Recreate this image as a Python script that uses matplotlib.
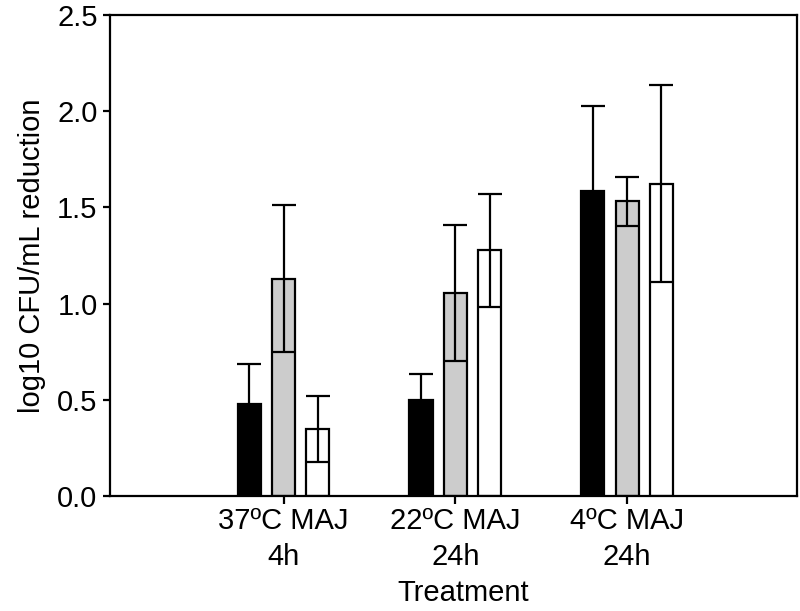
import numpy as np
import matplotlib.pyplot as plt

plt.rcParams['font.family'] = ['Liberation Sans', 'DejaVu Sans']

# data
groups = ['37ºC MAJ\n4h', '22ºC MAJ\n24h', '4ºC MAJ\n24h']
black_vals = [0.48, 0.50, 1.585]
black_err = [0.205, 0.135, 0.44]
gray_vals = [1.13, 1.055, 1.532]
gray_err = [0.38, 0.355, 0.127]
white_vals = [0.348, 1.277, 1.624]
white_err = [0.172, 0.295, 0.513]

x = np.arange(1, len(groups) + 1)
offset = 0.2
width = 0.135

fig = plt.figure(figsize=(8, 6.11), dpi=100)
ax = fig.add_axes([0.1375, 0.1882, 0.859, 0.7873])

err_kw = dict(ecolor='black', elinewidth=1.6, capsize=8.5, capthick=1.6, zorder=3)
for dx, vals, errs, col in [(-offset, black_vals, black_err, 'black'),
                            (0, gray_vals, gray_err, '#cccccc'),
                            (offset, white_vals, white_err, 'white')]:
    ax.bar(x + 0.01 + dx, vals, width, color=col, edgecolor='black', linewidth=1.6, zorder=2)
    ax.errorbar(x + 0.01 + dx, vals, yerr=errs, fmt='none', **err_kw)

ax.set_xlim(0, 4)
ax.set_ylim(0, 2.5)
ax.set_yticks([0.0, 0.5, 1.0, 1.5, 2.0, 2.5])
ax.set_yticklabels(['0.0', '0.5', '1.0', '1.5', '2.0', '2.5'])
ax.set_xticks(x + 0.01)
ax.set_xticklabels(groups, linespacing=1.35)
ax.tick_params(axis='both', direction='out', labelsize=21, width=1.6, colors='black')
ax.tick_params(axis='y', length=5, pad=4)
ax.tick_params(axis='x', length=6, pad=2)
for s in ax.spines.values():
    s.set_linewidth(1.6)

ax.set_xlabel('Treatment', fontsize=21, labelpad=6)
ax.xaxis.label.set_x(0.514)
ax.set_ylabel('log10 CFU/mL reduction', fontsize=21, labelpad=8)

fig.savefig('out.png', dpi=100)
